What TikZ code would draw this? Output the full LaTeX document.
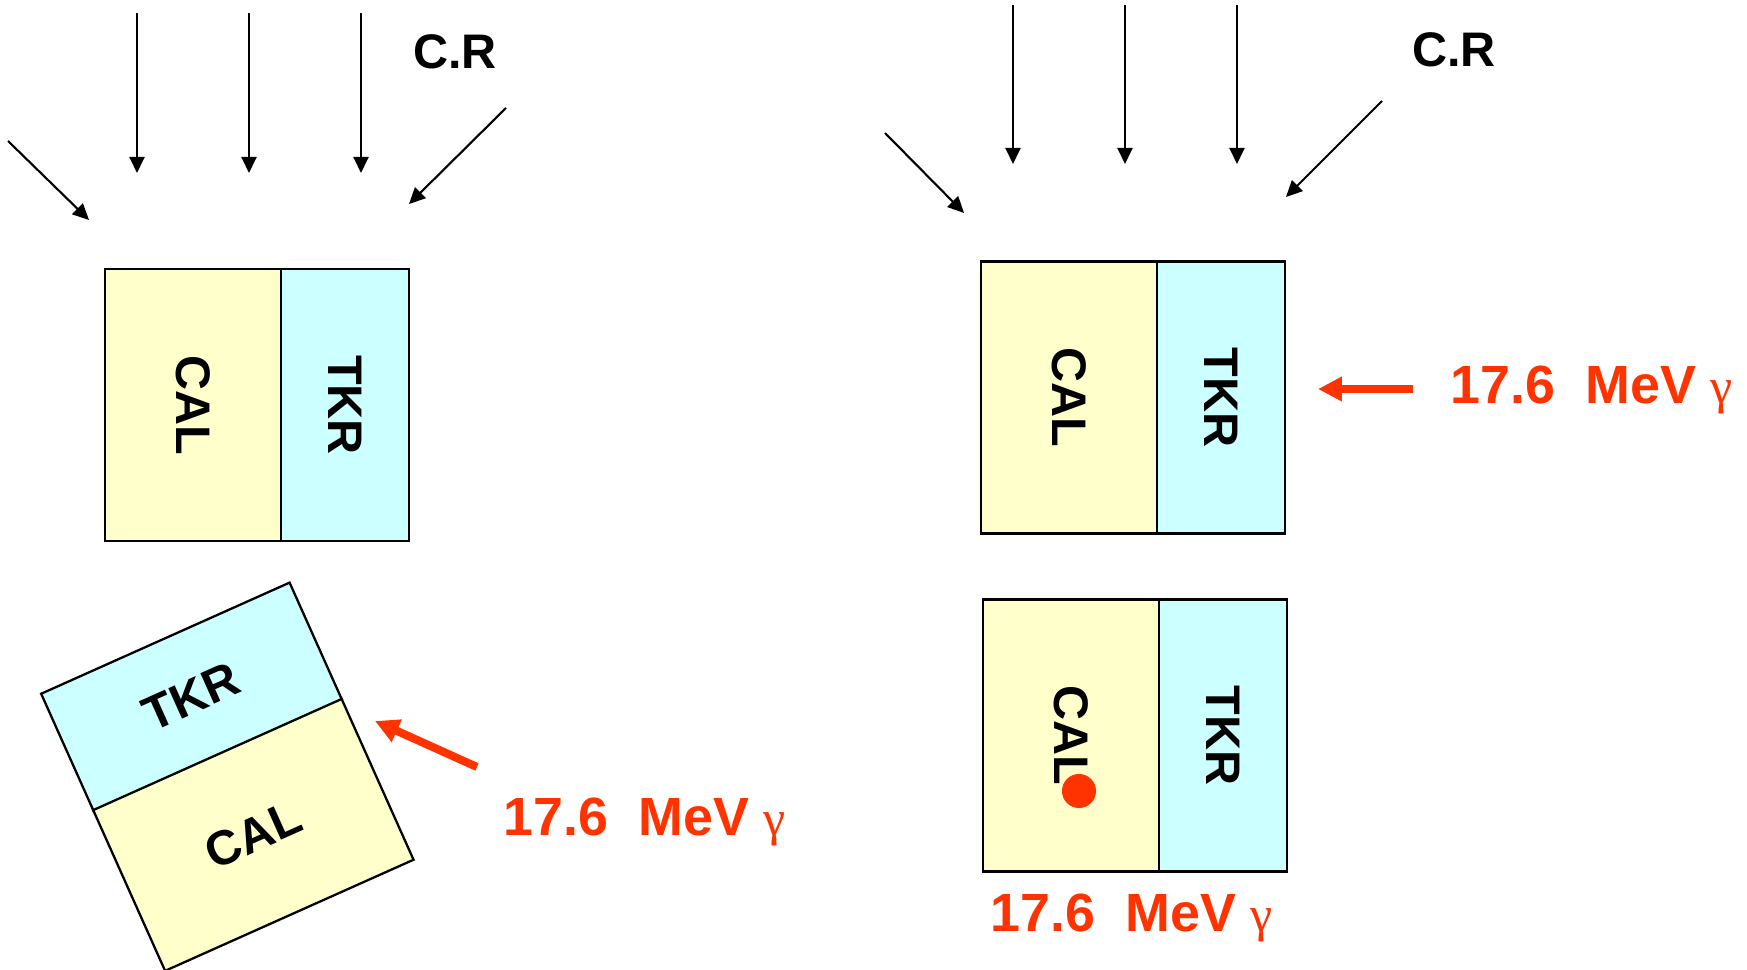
\documentclass[tikz,border=0pt]{standalone}
\usepackage{fontspec}
\setmainfont{Liberation Sans}
\newfontfamily\gfont{Liberation Serif}
\usetikzlibrary{arrows.meta}
\definecolor{calfill}{HTML}{FFFFCC}
\definecolor{tkrfill}{HTML}{CCFFFF}
\definecolor{gred}{HTML}{FF3300}
\tikzset{
  crarrow/.style={line width=0.6pt,-{Triangle[length=4.6pt,width=4.3pt]}},
  gamarrow/.style={draw=gred,line width=2.3pt,-{Triangle[length=6.8pt,width=6.6pt]}},
  detbox/.style={draw=black,line width=0.65pt,minimum width=2.72cm,inner sep=0pt,
    font=\fontsize{13.8}{16}\selectfont\bfseries},
  calbox/.style={detbox,fill=calfill,minimum height=1.76cm},
  tkrbox/.style={detbox,fill=tkrfill,minimum height=1.28cm},
  crlabel/.style={inner sep=0pt,font=\fontsize{13.8}{16}\selectfont\bfseries},
  elabel/.style={text=gred,inner sep=0pt,anchor=base west,
    font=\fontsize{15.3}{18}\selectfont\bfseries},
  hitdot/.style={circle,fill=gred,minimum size=0.34cm,inner sep=0pt}
}
\newcommand{\gammatext}{17.6~~MeV {\gfont\mdseries\fontsize{14.2}{18}\selectfont γ}}
\begin{document}
\begin{tikzpicture}[x=0.01cm,y=-0.01cm]
\useasboundingbox (0,0) rectangle (1747,970);

% ---------- upper left ----------
\coordinate (a1s) at (8,141);    \coordinate (a1e) at (89,220);
\coordinate (a2s) at (137,13);   \coordinate (a2e) at (137,173);
\coordinate (a3s) at (249,13);   \coordinate (a3e) at (249,173);
\coordinate (a4s) at (361,13);   \coordinate (a4e) at (361,173);
\coordinate (a5s) at (506,108);  \coordinate (a5e) at (409,204);
\foreach \i in {1,...,5} \draw[crarrow] (a\i s) -- (a\i e);
\node[crlabel] (crA) at (455,52) {C.R};

\node[calbox,rotate=-90] (calA) at (193,405) {CAL};
\node[tkrbox,rotate=-90] (tkrA) at (345,405) {TKR};

% ---------- lower left (tilted) ----------
\begin{scope}[shift={(227.25,776.5)},rotate=24.1,transform shape]
  \node[tkrbox] (tkrT) at (0,-87.5) {TKR};
  \node[calbox] (calT) at (0,64) {CAL};
\end{scope}
\coordinate (g1s) at (477,767); \coordinate (g1e) at (375,721);
\draw[gamarrow] (g1s) -- (g1e);
\node[elabel] (eT) at (503,835) {\gammatext};

% ---------- upper right ----------
\coordinate (b1s) at (885,133);   \coordinate (b1e) at (964,213);
\coordinate (b2s) at (1013,5);    \coordinate (b2e) at (1013,164);
\coordinate (b3s) at (1125,5);    \coordinate (b3e) at (1125,164);
\coordinate (b4s) at (1237,5);    \coordinate (b4e) at (1237,164);
\coordinate (b5s) at (1382,101);  \coordinate (b5e) at (1286,197);
\foreach \i in {1,...,5} \draw[crarrow] (b\i s) -- (b\i e);
\node[crlabel] (crB) at (1454,50) {C.R};

\node[calbox,rotate=-90] (calB) at (1069,397.5) {CAL};
\node[tkrbox,rotate=-90] (tkrB) at (1221,397.5) {TKR};
\coordinate (g2s) at (1413,389); \coordinate (g2e) at (1318,389);
\draw[gamarrow] (g2s) -- (g2e);
\node[elabel] (eB) at (1450,404) {\gammatext};

% ---------- lower right ----------
\node[calbox,rotate=-90] (calC) at (1071,735.5) {CAL};
\node[tkrbox,rotate=-90] (tkrC) at (1223,735.5) {TKR};
\node[hitdot] (dot) at (1079,791) {};
\node[elabel] (eC) at (990,932) {\gammatext};
\end{tikzpicture}
\end{document}
